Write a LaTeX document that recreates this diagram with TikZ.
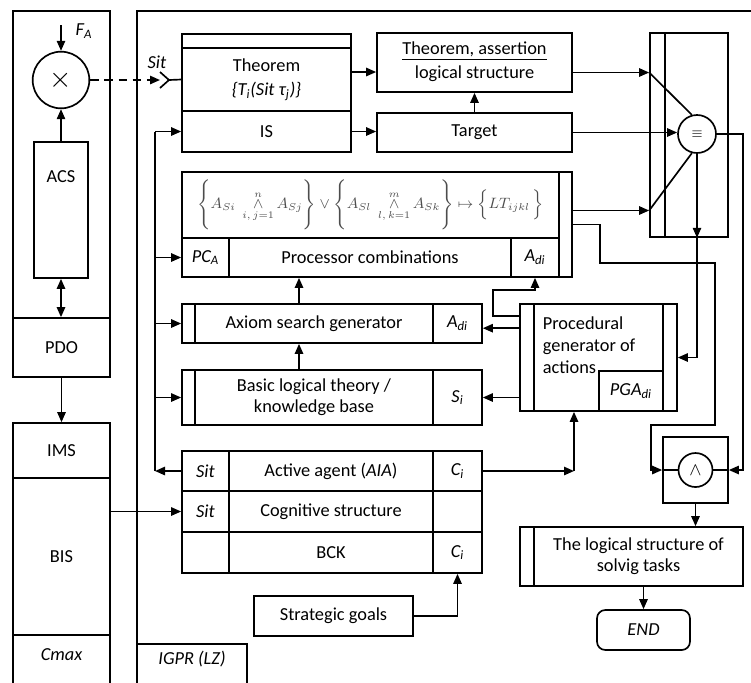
\documentclass[tikz,border=0pt]{standalone}
\usepackage{fontspec}
\setmainfont{Carlito}
\usetikzlibrary{arrows.meta,positioning,fit,calc}
\newcommand{\two}[3][0pt]{\begin{tabular}{@{}c@{}}#2\\[#1]#3\end{tabular}}

\begin{document}
\begin{tikzpicture}[x=0.6pt,y=-0.6pt, line width=1pt, font=\fontsize{11}{13}\selectfont,
    box/.style={draw, inner sep=0pt},
    txt/.style={label={center:{#1}}},
    arr/.style={-{Triangle[length=6pt,width=5pt]}},
    dbl/.style={{Triangle[length=6pt,width=5pt]}-{Triangle[length=6pt,width=5pt]}},
    it/.style={font=\fontsize{11}{13}\selectfont\itshape}]
  \useasboundingbox (0,0) rectangle (751,682);

  % left column
  \node[box, fit={(13,11) (110,318)}] (acsfr) {};
  \node[box, fit={(13,318) (110,377)}, txt=PDO] (pdo) {};
  \node[box, fit={(34,142) (88,278)}, label={[anchor=center,yshift=-21pt]north:ACS}] (acs) {};
  \node[circle, draw, minimum size=34pt, inner sep=0pt] (mul) at (61,80) {\LARGE$\times$};
  \coordinate (fa) at (61,25);
  \node[it] (falbl) at (84,31) {F\textsubscript{A}};
  \draw[arr] (fa) -- (mul.north);
  \draw[arr] (acs.north) -- (mul.south);
  \draw[dbl] (acs.south) -- (acs.south |- pdo.north);
  \node[box, fit={(13,423) (110,478)}, txt=IMS] (ims) {};
  \node[box, fit={(13,478) (110,635)}, txt=BIS] (bis) {};
  \node[box, fit={(13,635) (110,700)}, label={[it,anchor=center,yshift=-12pt]north:Cmax}] (cmax) {};
  \draw[arr] (pdo.south) -- (pdo.south |- ims.north);

  % main frame
  \draw (137,700) -- (137,11) -- (770,11);
  \node[box, fit={(137,644) (247,700)}, label={[it,anchor=center,yshift=-9.6pt]north:IGPR (LZ)}] (igpr) {};

  % theorem
  \node[box, fit={(182,34) (351,48)}] (thtop) {};
  \node[box, fit={(182,48) (351,111)},
    txt={\two[1.5pt]{Theorem}{\textit{\{T\textsubscript{i}(Sit τ\textsubscript{j})\}}}}] (thm) {};
  \node[box, fit={(182,111) (351,152)}, txt=IS] (is) {};
  \node[box, fit={(377,33) (572,92)},
    txt={\two[1.5pt]{\underline{Theorem, assertion}}{logical structure}}] (tas) {};
  \node[box, fit={(377,113) (572,152)}, txt=Target] (tgt) {};
  \coordinate (sitin) at (160,80);
  \coordinate (sitch) at (169,80);
  \node[it] (sitlbl) at (157,62) {Sit};
  \draw[arr, dash pattern=on 5pt off 3.5pt] (mul.east) -- (sitin);
  \draw (sitin) ++(0,-8) -- (sitch) -- ++(-9,8);
  \draw (sitch) -- (thm.west);
  \draw[arr] ($(thm.east)+(0,-7.5)$) -- ($(thm.east -| tas.west)+(0,-7.5)$);
  \draw[arr] (is.east) -- (is.east -| tgt.west);
  \draw[arr] (tgt.north) -- (tgt.north |- tas.south);

  % processor combinations
  \node[box, fit={(182,172) (559,238)},
    txt={\fontsize{9.2}{11}\selectfont\color{black!70}$\displaystyle
    \Biggl\{A_{Si}\;\mathop{\wedge}\limits_{i,\,j=1}^{n}A_{Sj}\Biggr\}\vee
    \Biggl\{A_{Sl}\;\mathop{\wedge}\limits_{l,\,k=1}^{m}A_{Sk}\Biggr\}\mapsto
    \Bigl\{LT_{ijkl}\,\Bigr\}$}] (fml) {};
  \node[box, fit={(559,172) (572,277)}] (fstrip) {};
  \node[box, fit={(182,238) (229,277)}, txt={\textit{PC\textsubscript{A}}}] (pca) {};
  \node[box, fit={(229,238) (511,277)}, txt={Processor combinations}] (proc) {};
  \node[box, fit={(511,238) (559,277)}, txt={\textit{A\textsubscript{di}}}] (adi1) {};

  % comparator
  \node[box, fit={(650,33) (728,237)}] (cmp) {};
  \node[box, fit={(650,33) (665,237)}] (cmpl) {};
  \node[circle, draw, minimum size=22.8pt, inner sep=0pt] (eq) at (697,134) {\footnotesize$\equiv$};
  \coordinate (ta) at ($(tas.east)+(0,10)$);
  \coordinate (fb) at ($(fstrip.east)+(0,-14)$);
  \draw[arr] (ta) -- (ta -| cmp.west);
  \draw (ta -| cmp.west) -- (eq.105);
  \draw[arr] (tgt.east) -- (tgt.east -| eq.west);
  \draw[arr] (fb) -- (fb -| cmp.west);
  \draw (fb -| cmp.west) -- (eq.255);

  % axiom and basic theory
  \node[box, fit={(182,304) (195,343)}] (axl) {};
  \node[box, fit={(195,304) (433,343)}, txt={Axiom search generator}] (axg) {};
  \node[box, fit={(433,304) (482,343)}, txt={\textit{A\textsubscript{di}}}] (adi2) {};
  \node[box, fit={(182,370) (195,425)}] (bsl) {};
  \node[box, fit={(195,370) (433,425)}, txt={\two{Basic logical theory /}{knowledge base}}] (bas) {};
  \node[box, fit={(433,370) (482,425)}, txt={\textit{S\textsubscript{i}}}] (si) {};
  \coordinate (up) at ($(axg.north)+(-15,0)$);
  \draw[arr] (up) -- (up |- proc.south);
  \draw[arr] (up |- bas.north) -- (up |- axg.south);

  % procedural generator
  \node[box, fit={(520,304) (534,411)}] (pgl) {};
  \node[box, fit={(534,304) (663,411)},
    label={[anchor=north west, xshift=2pt, yshift=-3pt]north west:{\begin{tabular}{@{}l@{}}Procedural\\generator of\\actions\end{tabular}}}] (pga) {};
  \node[box, fit={(663,304) (677,411)}] (pgr) {};
  \node[box, fit={(599,371) (663,411)}, txt={\textit{PGA\textsubscript{di}}}] (pgadi) {};
  \coordinate (pa) at ($(pgl.north west)+(0,25)$);
  \draw[arr] (pa) -- (pa -| adi2.east);
  \draw[arr] ($(pgl.north west)+(0,13)$) -- ++(-26,0) -- ++(0,-26) -| (adi1.south);
  \draw[arr] (pgl.west |- si.east) -- (si.east);
  \draw[arr] (eq.south) -- (eq.south |- cmp.south);
  \draw[arr] (eq.south |- cmp.south) |- (pgr.east);

  % active agent
  \node[box, fit={(182,451) (229,491)}, txt={\textit{Sit}}] (sit1) {};
  \node[box, fit={(229,451) (433,491)}, txt={Active agent (\textit{AIA})}] (aia) {};
  \node[box, fit={(433,451) (482,491)}, txt={\textit{C\textsubscript{i}}}] (ci1) {};
  \node[box, fit={(182,491) (229,532)}, txt={\textit{Sit}}] (sit2) {};
  \node[box, fit={(229,491) (433,532)}, txt={Cognitive structure}] (cog) {};
  \node[box, fit={(433,491) (482,532)}] (cnone) {};
  \node[box, fit={(182,532) (229,573)}] (snone) {};
  \node[box, fit={(229,532) (433,573)}, txt=BCK] (bck) {};
  \node[box, fit={(433,532) (482,573)}, txt={\textit{C\textsubscript{i}}}] (ci2) {};
  \node[box, fit={(254,596) (413,636)}, txt={Strategic goals}] (sg) {};
  \coordinate (pgin) at (574,0);
  \draw[arr] (ci1.east) -- (ci1.east -| pgin);
  \draw[arr] (ci1.east -| pgin) -- (pgin |- pga.south);
  \draw[arr] (sg.east) -| (ci2.south);
  \draw[arr] (sit2.west -| bis.east) -- (sit2.west);

  % bus
  \coordinate (bus) at (155,0);
  \draw[arr] (sit1.west) -- (sit1.west -| bus);
  \draw (sit1.west -| bus) -- (is.west -| bus);
  \foreach \n in {is,pca,axl,bsl}
    \draw[arr] (\n.west -| bus) -- (\n.west);

  % conjunction and result
  \node[box, fit={(663,437) (728,503)}] (andbox) {};
  \node[circle, draw, minimum size=20.4pt, inner sep=0pt] (andc) at (695.5,470) {$\wedge$};
  \draw (andbox.west) -- (andc.west) (andc.east) -- (andbox.east);
  \draw[arr] (fstrip.east) -- ++(27,0) |- (715,263) |- (651,425) |- (andbox.west);
  \draw[arr] (eq.east) -- ++(26,0) |- (andbox.east);
  \node[box, fit={(520,527) (534,586)}] (lsl) {};
  \node[box, fit={(534,527) (743,586)}, txt={\two{The logical structure of}{solvig tasks}}] (lst) {};
  \node[box, rounded corners=5pt, fit={(597,610) (690,650)}, txt={\textit{END}}] (endn) {};
  \draw[arr] (andbox.south) -- (andbox.south |- lst.north);
  \draw[arr] (endn.north |- lst.south) -- (endn.north);
\end{tikzpicture}
\end{document}
